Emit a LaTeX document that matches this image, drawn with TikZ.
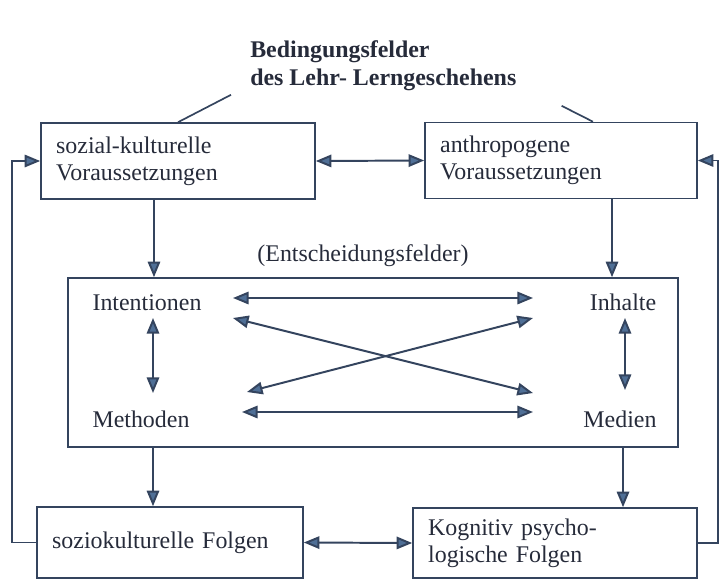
\documentclass[tikz,border=0pt]{standalone}
\usepackage{fontspec}
\setmainfont{Liberation Serif}
\usetikzlibrary{arrows.meta, positioning, calc}
\definecolor{inkText}{HTML}{262B3A}
\definecolor{inkLine}{HTML}{34445E}
\definecolor{inkTip}{HTML}{4F6F96}

\tikzset{
  feld/.style={draw=inkLine, line width=1.1pt, align=left, text=inkText,
    font=\fontsize{17}{19}\selectfont, inner xsep=0.38cm, inner ysep=0pt},
  eintrag/.style={text=inkText, font=\fontsize{17}{19}\selectfont, inner sep=1pt, anchor=base},
  linie/.style={draw=inkLine, line width=1.2pt},
  verbind/.style={draw=inkLine, line width=1.4pt, -{Triangle[length=3.9mm, width=3.1mm, fill=inkTip]}},
  wechsel/.style={verbind, {Triangle[length=3.9mm, width=3.1mm, fill=inkTip]}-{Triangle[length=3.9mm, width=3.1mm, fill=inkTip]}},
}

\begin{document}
\begin{tikzpicture}[x=0.025cm, y=-0.025cm]
\useasboundingbox (0,0) rectangle (726,581);

% Title
\node[font=\fontsize{17}{20}\selectfont\bfseries, text=inkText, align=left, inner sep=0pt, anchor=north west]
  (titel) at (250,40) {Bedingungsfelder\\des Lehr- Lerngeschehens};

% Bedingungsfelder
\node[feld, text width=6.09cm, minimum height=1.9cm] (sk) at (178,161) {sozial-kulturelle\\Voraussetzungen};
\node[feld, text width=6.04cm, minimum height=1.9cm] (anthro) at (561,160.5) {anthropogene\\Voraussetzungen};

% Entscheidungsfelder
\node[eintrag, anchor=center] (elabel) at (363,256) {(Entscheidungsfelder)};
\node[draw=inkLine, line width=1.1pt, minimum width=15.25cm, minimum height=4.225cm] (entsch) at (373,362.5) {};
\foreach \n/\x/\y/\t in {int/147/310/Intentionen, inh/623/310/Inhalte, meth/141/427/Methoden, med/620/427/Medien} {
  \node[eintrag] (\n) at (\x,\y) {\t};
}

% Folgen
\node[feld, text width=5.89cm, minimum height=1.775cm] (sf) at (170,542.5) {soziokulturelle Folgen};
\node[feld, text width=6.34cm, minimum height=1.75cm] (kp) at (555,543) {Kognitiv psycho-\\logische Folgen};

% Title pointers
\draw[linie] ($(titel.south west)+(-19,4)$) -- (sk.north);
\draw[linie] ($(titel.south east)+(45,15)$) -- ($(anthro.north)+(32,0)$);

% Between the fields
\draw[wechsel] (sk.east) -- (anthro.west);
\draw[wechsel] (sf.east) -- (kp.west);
\draw[verbind] ([xshift=-0.6cm]sk.south) -- ([xshift=-0.6cm]sk.south |- entsch.north);
\draw[verbind] ([xshift=1.275cm]anthro.south) -- ([xshift=1.275cm]anthro.south |- entsch.north);
\draw[verbind] ([xshift=-0.425cm]sf.north |- entsch.south) -- ([xshift=-0.425cm]sf.north);
\draw[verbind] ([xshift=1.7cm]kp.north |- entsch.south) -- ([xshift=1.7cm]kp.north);

% Inside the decision box
\draw[wechsel] ($(int.base)+(86,-12)$) -- ($(inh.base)+(-90,-12)$);
\draw[wechsel] ($(int.base)+(86,8)$) -- ($(med.base)+(-87,-34)$);
\draw[wechsel] ($(inh.base)+(-90,8)$) -- ($(meth.base)+(106,-35)$);
\draw[wechsel] ($(meth.base)+(101,-15)$) -- ($(med.base)+(-87,-15)$);
\draw[wechsel] ($(int.base)+(6,8)$) -- ($(meth.base)+(12,-34)$);
\draw[wechsel] ($(inh.base)+(2,8)$) -- ($(med.base)+(5,-37)$);

% Feedback
\draw[verbind] (sf.west) -- ++(-24,0) |- (sk.west);
\draw[verbind] (kp.east) -- ++(20,0) |- (anthro.east);
\end{tikzpicture}
\end{document}
